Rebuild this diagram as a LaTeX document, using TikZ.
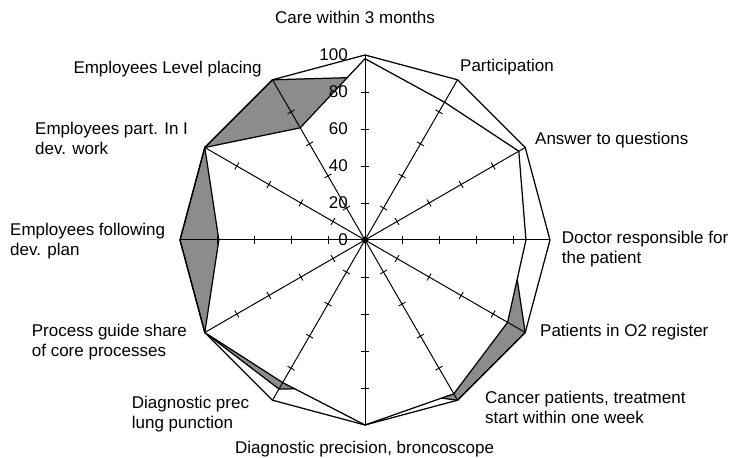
\documentclass[tikz,border=0pt]{standalone}
\usepackage{fontspec}
\setmainfont{Liberation Sans}
\usetikzlibrary{calc}
\tikzset{
  axis line/.style = {line width=1pt},
  tickmark/.style  = {line width=0.9pt},
  outline/.style   = {line width=1.25pt},
  result/.style    = {line width=1.25pt, fill=white},
  prev area/.style = {line width=1.25pt, fill=black!45},
  catlabel/.style  = {anchor=base west, align=left, inner sep=0pt},
  ticklabel/.style = {anchor=east, inner sep=0pt},
}

\begin{document}
\begin{tikzpicture}[x=1pt, y=1pt, every node/.style={font=\fontsize{17}{20}\selectfont}]
  \useasboundingbox (0,0) rectangle (732,458);
  \coordinate (O) at (365,218);

  \begin{scope}[shift={(O)}]
    % axis ends (value 100), clockwise from the top
    \foreach \i in {0,...,11}
      \coordinate (A\i) at ({90-30*\i}:185);
    % current values
    \foreach \v [count=\i from 0] in {98,86,96,87,89,96,100,89,100,79,100,70}
      \coordinate (W\i) at ({90-30*\i}:{1.85*\v});
    % grey area values
    \foreach \v [count=\i from 0] in {88,80,85,79,100,100,80,93,100,100,100,100}
      \coordinate (G\i) at ({90-30*\i}:{1.85*\v});
  \end{scope}

  \draw[prev area] (G0) -- (G1) -- (G2) -- (G3) -- (G4) -- (G5) -- (G6)
                   -- (G7) -- (G8) -- (G9) -- (G10) -- (G11) -- cycle;
  \draw[result] (W0) -- (W1) -- (W2) -- (W3) -- (W4) -- (W5) -- (W6)
                -- (W7) -- (W8) -- (W9) -- (W10) -- (W11) -- cycle;

  \foreach \i in {0,...,11} {
    \draw[axis line] (O) -- (A\i);
    \foreach \t in {20,40,60,80}
      \draw[tickmark] ($(O)!\t/100!(A\i)$) ++({-30*\i}:4) -- ++({180-30*\i}:8);
  }
  \draw[outline] (A0) -- (A1) -- (A2) -- (A3) -- (A4) -- (A5) -- (A6)
                 -- (A7) -- (A8) -- (A9) -- (A10) -- (A11) -- cycle;
  \fill (O) circle (3.5);

  % scale on the vertical axis
  \foreach \t in {0,20,...,100}
    \node[ticklabel] (t\t) at ($(O)+(-17,1.85*\t)$) {\t};

  % category labels (base = last line)
  \node[catlabel] (lCare)    at (275,434.7) {Care within 3 months};
  \node[catlabel] (lPart)    at (460,386.3) {Participation};
  \node[catlabel] (lAnswer)  at (535,313)   {Answer to questions};
  \node[catlabel] (lDoctor)  at (561.7,194.7) {Doctor responsible for\\the patient};
  \node[catlabel] (lOtwo)    at (540,121)   {Patients in O2 register};
  \node[catlabel] (lCancer)  at (485,34.7)  {Cancer patients, treatment\\start within one week};
  \node[catlabel] (lBronc)   at (235,4)     {Diagnostic precision, broncoscope};
  \node[catlabel] (lLung)    at (131.7,29.7) {Diagnostic prec\\lung punction};
  \node[catlabel] (lProcess) at (31.7,101.3) {Process guide share\\of core processes};
  \node[catlabel] (lFollow)  at (10,202)    {Employees following\\dev. plan};
  \node[catlabel] (lDevwork) at (35,303.7)  {Employees part. In I\\dev. work};
  \node[catlabel] (lLevel)   at (73.3,384)  {Employees Level placing};
\end{tikzpicture}
\end{document}
